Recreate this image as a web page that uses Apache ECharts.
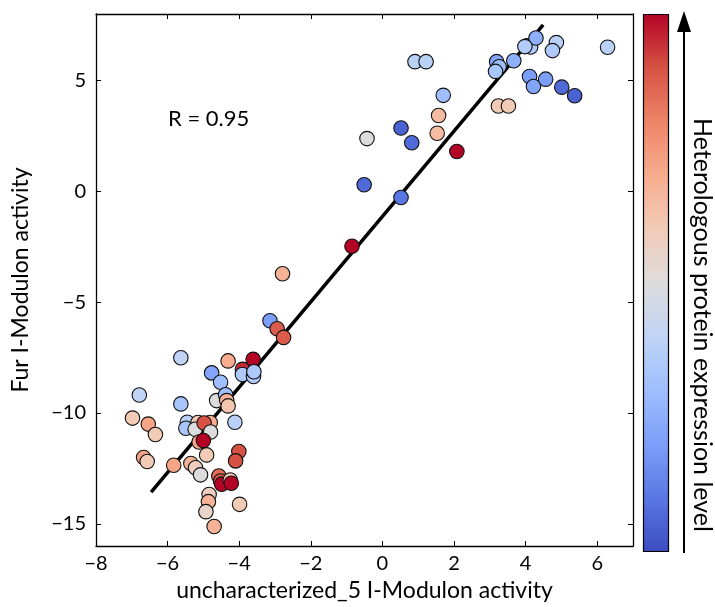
<!DOCTYPE html>
<html>
<head>
<meta charset="utf-8">
<script src="https://cdn.jsdelivr.net/npm/echarts@6/dist/echarts.min.js"></script>
<style>html,body{margin:0;padding:0;background:#fff}#c{width:715px;height:607px}</style>
</head>
<body>
<div id="c"></div>
<script>
// uncharacterized_5 iModulon activity
const xVals = [0.91,1.22,1.70,1.57,1.53,0.52,0.82,2.08,0.52,3.19,
  3.26,3.16,3.67,3.24,3.52,4.04,4.14,4.29,4.86,4.75,
  6.29,4.11,4.22,4.56,5.01,5.37,3.98,-0.43,-0.51,-0.85,
  -2.79,-3.14,-2.94,-2.76,-5.63,-4.31,-3.61,-3.91,-3.91,-3.60,
  -3.59,-4.77,-4.52,-6.79,-5.63,-4.63,-4.38,-4.35,-4.31,-6.98,
  -6.54,-6.34,-5.45,-5.49,-5.15,-5.23,-4.81,-4.98,-4.80,-5.12,
  -5.00,-4.12,-4.91,-4.01,-4.10,-6.67,-6.57,-5.83,-5.35,-5.22,
  -5.08,-4.57,-4.52,-4.49,-4.25,-4.22,-4.84,-4.86,-4.93,-3.99,-4.70];
// Fur iModulon activity
const yVals = [5.85,5.85,4.33,3.42,2.62,2.86,2.19,1.80,-0.28,5.85,
  5.62,5.41,5.89,3.85,3.85,6.56,6.51,6.92,6.71,6.35,
  6.50,5.18,4.73,5.06,4.70,4.31,6.53,2.38,0.30,-2.48,
  -3.72,-5.84,-6.20,-6.59,-7.51,-7.65,-7.58,-8.03,-8.26,-8.35,
  -8.14,-8.19,-8.61,-9.19,-9.59,-9.44,-9.18,-9.44,-9.68,-10.23,
  -10.50,-10.97,-10.42,-10.69,-10.43,-10.73,-10.43,-10.45,-10.86,-11.31,
  -11.24,-10.42,-11.89,-11.74,-12.16,-12.01,-12.19,-12.36,-12.28,-12.47,
  -12.79,-12.84,-13.07,-13.21,-13.02,-13.17,-13.68,-14.00,-14.45,-14.12,-15.12];
// heterologous protein expression level (normalised 0..1)
const exprLevel = [0.38,0.38,0.30,0.65,0.65,0.05,0.07,1.0,0.10,0.22,
  0.30,0.33,0.25,0.60,0.60,0.35,0.35,0.25,0.38,0.35,
  0.38,0.20,0.22,0.20,0.07,0.05,0.36,0.50,0.07,1.0,
  0.68,0.20,0.88,0.88,0.40,0.70,1.0,0.95,0.35,0.35,
  0.35,0.22,0.30,0.40,0.33,0.50,0.30,0.68,0.62,0.60,
  0.72,0.60,0.38,0.33,0.60,0.50,0.70,0.90,0.50,0.72,
  1.0,0.38,0.60,0.90,0.90,0.72,0.60,0.72,0.68,0.58,
  0.50,0.85,0.88,1.0,0.60,1.0,0.58,0.68,0.55,0.60,0.68];
// regression line endpoints
const fitX = [-6.46, 4.49];
const fitY = [-13.57, 7.51];
const xTicks = [-8,-6,-4,-2,0,2,4,6];
const yTicks = [-15,-10,-5,0,5];
const rText = 'R = 0.95';

const FONT = 'Lato';
const fmt = v => String(v).replace('-', '\u2212');
const pts = xVals.map((x,i)=>[x, yVals[i], exprLevel[i]]);
const fitData = fitX.map((x,i)=>[x, fitY[i]]);

const chart = echarts.init(document.getElementById('c'), null, {renderer:'canvas'});
const baseAxis = {
  axisLine:{show:true, onZero:false, lineStyle:{color:'#000', width:1.3}},
  axisTick:{show:true, inside:true, length:5, lineStyle:{color:'#000'}},
  splitLine:{show:false},
};
chart.setOption({
  animation:false,
  textStyle:{fontFamily:FONT},
  grid:{left:96, top:14, width:537, height:538, containLabel:false},
  xAxis:[
    Object.assign({}, baseAxis, {type:'value', min:-8, max:7, interval:2, position:'bottom',
      name:'uncharacterized_5 I-Modulon activity', nameLocation:'middle', nameGap:33,
      nameTextStyle:{fontSize:23, color:'#000', fontFamily:FONT},
      axisLabel:{show:true, margin:8, fontSize:20, color:'#000', fontFamily:FONT, formatter:fmt, showMaxLabel:false}}),
    Object.assign({}, baseAxis, {type:'value', min:-8, max:7, interval:2, position:'top',
      axisLabel:{show:false}})
  ],
  yAxis:[
    Object.assign({}, baseAxis, {type:'value', min:-16, max:8, interval:5, position:'left',
      name:'Fur I-Modulon activity', nameLocation:'middle', nameGap:64,
      nameTextStyle:{fontSize:23, color:'#000', fontFamily:FONT},
      axisLabel:{show:true, margin:10, fontSize:20, color:'#000', fontFamily:FONT, formatter:fmt,
        customValues: yTicks},
      axisTick:{show:true, inside:true, length:5, customValues:yTicks, lineStyle:{color:'#000'}}}),
    Object.assign({}, baseAxis, {type:'value', min:-16, max:8, interval:5, position:'right',
      axisLabel:{show:false},
      axisTick:{show:true, inside:true, length:5, customValues:yTicks, lineStyle:{color:'#000'}}})
  ],
  visualMap:{
    type:'continuous', min:0, max:1, dimension:2, seriesIndex:0,
    left:643, top:14, itemWidth:26, itemHeight:538, padding:0,
    calculable:false, text:null, showLabel:false,
    inRange:{color:['#3b4cc0','#5977e3','#7b9ff9','#9ebeff','#c0d4f5','#dddcdc','#f2cbb7','#f7ac8e','#ee8468','#d65244','#b40426']}
  },
  series:[
    {type:'scatter', data:pts, symbolSize:14.5, z:3,
      itemStyle:{borderColor:'#111', borderWidth:1.1, opacity:1}},
    {type:'line', data:fitData, symbol:'none', z:2,
      lineStyle:{color:'#000', width:3.5}}
  ],
  graphic:[
    {type:'text', left:168, top:108, style:{text:rText, font:'22px '+FONT, fill:'#000'}},
    {type:'rect', shape:{x:643.5, y:14.5, width:25, height:537}, style:{fill:'none', stroke:'#000', lineWidth:1.2}, z:100},
    {type:'line', shape:{x1:684, y1:553, x2:684, y2:26}, style:{stroke:'#000', lineWidth:2}},
    {type:'polygon', shape:{points:[[684,11],[677,32],[691,32]]}, style:{fill:'#000'}},
    {type:'text', x:702, y:325, rotation:-Math.PI/2,
      style:{text:'Heterologous protein expression level', font:'25px '+FONT, fill:'#000', align:'center', verticalAlign:'middle'}}
  ]
});
</script>
</body>
</html>
